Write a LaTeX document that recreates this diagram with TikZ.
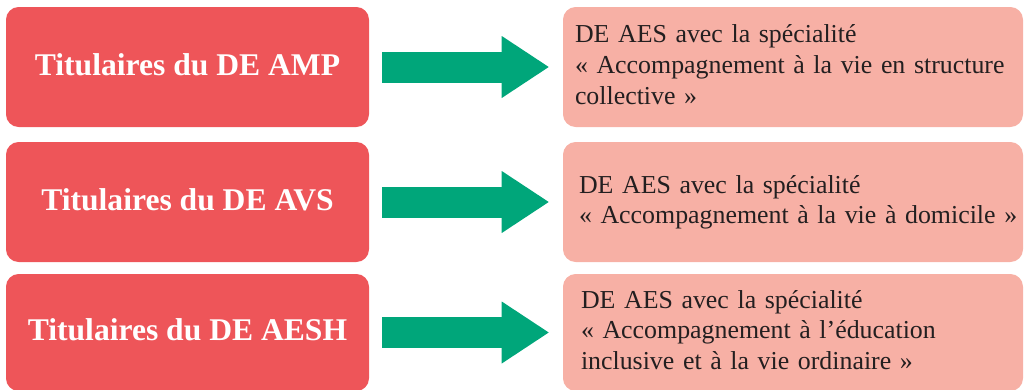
\documentclass[tikz,border=0pt]{standalone}
\usepackage{fontspec}
\setmainfont{Liberation Serif}
\usetikzlibrary{arrows.meta}
\definecolor{leftred}{RGB}{238,85,89}
\definecolor{rightpink}{RGB}{247,176,165}
\definecolor{arrowgreen}{RGB}{0,166,122}
\definecolor{textdark}{RGB}{35,31,32}
\begin{document}
\begin{tikzpicture}[x=0.75pt,y=-0.75pt,
  leftbox/.style={fill=leftred, rounded corners=9.5pt, minimum width=272.25pt,
    minimum height=90pt, inner sep=0pt, text=white, text height=16pt, text depth=3.3pt,
    font=\fontsize{23.7pt}{28pt}\selectfont\bfseries},
  rightbox/.style={fill=rightpink, rounded corners=9.5pt, minimum width=345pt,
    minimum height=90pt, inner sep=0pt},
  righttext/.style={anchor=base west, inner sep=0pt, text width=335pt, align=left,
    text=textdark, font=\fontsize{19.4pt}{23pt}\selectfont},
  bigarrow/.style={draw=arrowgreen, line width=23.25pt,
    -{Triangle[length=35.25pt,width=46.5pt,line width=0pt]},
    shorten <=9.75pt, shorten >=10.5pt}
]
\useasboundingbox (0,0) rectangle (1024,389);
\clip (0,0) rectangle (1024,389);
\node[leftbox] (L1) at (187.5,67) {Titulaires du DE AMP};
\node[leftbox] (L2) at (187.5,202) {Titulaires du DE AVS};
\node[leftbox, minimum height=87.75pt] (L3) at (187.5,332.5) {Titulaires du DE AESH};
\node[rightbox] (R1) at (793,67) {};
\node[rightbox] (R2) at (793,202) {};
\node[rightbox, minimum height=87.75pt] (R3) at (793,332.5) {};
\node[righttext] (T1) at ([shift={(12,-24.3)}]R1.west)
  {DE AES avec la spécialité\\« Accompagnement à la vie en structure\\collective »};
\node[righttext] (T2) at ([shift={(16,-8.7)}]R2.west)
  {DE AES avec la spécialité\\« Accompagnement à la vie à domicile »};
\node[righttext] (T3) at ([shift={(18,-24.5)}]R3.west)
  {DE AES avec la spécialité\\« Accompagnement à l’éducation\\inclusive et à la vie ordinaire »};
\draw[bigarrow] (L1.east) -- (R1.west);
\draw[bigarrow] (L2.east) -- (R2.west);
\draw[bigarrow] (L3.east) -- (R3.west);
\end{tikzpicture}
\end{document}
